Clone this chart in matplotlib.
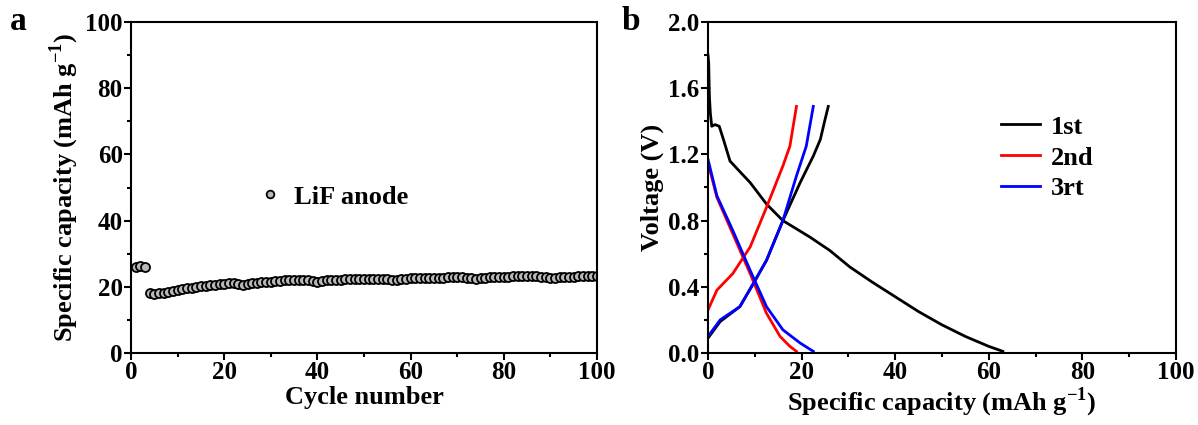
import matplotlib
matplotlib.use("Agg")
import matplotlib.pyplot as plt
import numpy as np
from matplotlib.ticker import MultipleLocator

plt.rcParams['font.family'] = ['Liberation Serif', 'DejaVu Serif']
plt.rcParams['font.weight'] = 'bold'
plt.rcParams['mathtext.fontset'] = 'custom'
plt.rcParams['mathtext.rm'] = 'Liberation Serif:bold'

# ---- Panel a data ----
cycles = list(range(1, 101))
capacity = [26.1, 26.2, 26.1,
            18.0, 17.9, 18.0, 18.2, 18.5, 18.8, 19.1, 19.3, 19.5, 19.7, 19.9, 20.1, 20.3, 20.4,
            20.6, 20.7, 20.8, 21.0, 21.0, 20.7, 20.6, 20.7, 21.0, 21.2, 21.4, 21.5, 21.6, 21.8,
            21.9, 22.0, 22.0, 22.1, 22.1, 22.1, 22.0, 21.9, 21.6, 21.8, 22.0, 22.1, 22.2, 22.2,
            22.3, 22.3, 22.4, 22.4, 22.5, 22.5, 22.5, 22.5, 22.4, 22.3, 22.0, 22.2, 22.4, 22.5,
            22.6, 22.6, 22.7, 22.7, 22.7, 22.8, 22.8, 22.8, 22.9, 22.9, 22.9, 22.9, 22.8, 22.6,
            22.4, 22.6, 22.8, 22.9, 23.0, 23.0, 23.1, 23.1, 23.2, 23.2, 23.2, 23.3, 23.3, 23.2,
            23.1, 22.9, 22.8, 22.7, 22.9, 23.0, 23.1, 23.1, 23.2, 23.2, 23.2, 23.2, 23.3]

# ---- Panel b data ----
d1_cap = [0.0, 0.15, 0.3, 0.5, 0.8, 1.5, 2.4, 3.3, 4.7, 7.0, 9.0, 12.5, 16.0, 21.8, 26.0,
          30.3, 35.0, 40.0, 45.0, 50.0, 55.0, 60.0, 63.0]
d1_v = [1.80, 1.75, 1.55, 1.45, 1.37, 1.38, 1.37, 1.29, 1.16, 1.09, 1.03, 0.90, 0.80, 0.70, 0.62,
        0.52, 0.43, 0.34, 0.25, 0.17, 0.10, 0.04, 0.01]
c1_cap = [0.0, 2.6, 6.8, 9.7, 12.5, 16.0, 19.7, 22.5, 24.0, 25.0, 25.7]
c1_v = [0.09, 0.19, 0.28, 0.42, 0.56, 0.80, 1.03, 1.19, 1.29, 1.41, 1.49]

d2_cap = [0.0, 1.9, 5.3, 9.0, 12.5, 15.4, 17.5, 18.9]
d2_v = [1.15, 0.94, 0.72, 0.48, 0.24, 0.10, 0.04, 0.01]
c2_cap = [0.0, 1.9, 5.3, 9.0, 12.5, 16.0, 17.5, 18.9]
c2_v = [0.26, 0.38, 0.48, 0.64, 0.88, 1.13, 1.25, 1.49]

d3_cap = [0.0, 1.9, 5.3, 9.0, 12.5, 16.0, 19.7, 22.5]
d3_v = [1.17, 0.95, 0.74, 0.50, 0.28, 0.14, 0.06, 0.01]
c3_cap = [0.0, 2.6, 6.8, 9.7, 12.5, 16.0, 18.9, 21.0, 22.5]
c3_v = [0.10, 0.20, 0.28, 0.42, 0.56, 0.80, 1.07, 1.25, 1.49]

fig = plt.figure(figsize=(11.98, 4.25), dpi=100)
axa = fig.add_axes([131/1198, 1-353/425, (597-131)/1198, (353-22)/425])
axb = fig.add_axes([708/1198, 1-353/425, (1176-708)/1198, (353-22)/425])

fs_tick = 18
fs_lab = 19

# Panel a
axa.plot(cycles, capacity, 'o', ms=6.5, mfc='#b8b8b8', mec='black', mew=1.3, label='LiF anode')
axa.set_xlim(0, 100)
axa.set_ylim(0, 100)
axa.xaxis.set_major_locator(MultipleLocator(20))
axa.xaxis.set_minor_locator(MultipleLocator(10))
axa.yaxis.set_major_locator(MultipleLocator(20))
axa.yaxis.set_minor_locator(MultipleLocator(10))
axa.set_xlabel('Cycle number', fontsize=fs_lab, fontweight='bold', labelpad=1)
axa.set_ylabel('Specific capacity (mAh g$^{-1}$)', fontsize=fs_lab, fontweight='bold', labelpad=3)
leg = axa.legend(loc='center left', bbox_to_anchor=(0.213, 0.472), frameon=False,
                 fontsize=fs_lab, handletextpad=0.3, markerscale=0.85, handlelength=1.2)

# Panel b
axb.plot(d1_cap, d1_v, color='black', lw=2, label='1st')
axb.plot(c1_cap, c1_v, color='black', lw=2)
axb.plot(d2_cap, d2_v, color='red', lw=2, label='2nd')
axb.plot(c2_cap, c2_v, color='red', lw=2)
axb.plot(d3_cap, d3_v, color='blue', lw=2, label='3rt')
axb.plot(c3_cap, c3_v, color='blue', lw=2)
axb.set_xlim(0, 100)
axb.set_ylim(0, 2.0)
axb.xaxis.set_major_locator(MultipleLocator(20))
axb.xaxis.set_minor_locator(MultipleLocator(10))
axb.yaxis.set_major_locator(MultipleLocator(0.4))
axb.yaxis.set_minor_locator(MultipleLocator(0.2))
axb.set_xlabel('Specific capacity (mAh g$^{-1}$)', fontsize=fs_lab, fontweight='bold', labelpad=1)
axb.set_ylabel('Voltage (V)', fontsize=fs_lab, fontweight='bold', labelpad=3)
axb.legend(loc='upper left', bbox_to_anchor=(0.575, 0.79), frameon=False, fontsize=fs_lab,
           handlelength=1.5, handletextpad=0.4, labelspacing=0.28)

for ax in (axa, axb):
    for sp in ax.spines.values():
        sp.set_linewidth(1.5)
    ax.tick_params(which='major', direction='out', length=5, width=1.5, labelsize=fs_tick,
                   top=False, right=False, pad=1)
    ax.tick_params(which='minor', direction='out', length=3, width=1.5, top=False, right=False)
    for lab in ax.get_xticklabels() + ax.get_yticklabels():
        lab.set_fontweight('bold')

axb.yaxis.set_major_formatter(matplotlib.ticker.FormatStrFormatter('%.1f'))

fig.text(10/1198, 1-22/425, 'a', fontsize=24, fontweight='bold', va='center', ha='left')
fig.text(622/1198, 1-22/425, 'b', fontsize=24, fontweight='bold', va='center', ha='left')

fig.savefig('out.png', dpi=100)
